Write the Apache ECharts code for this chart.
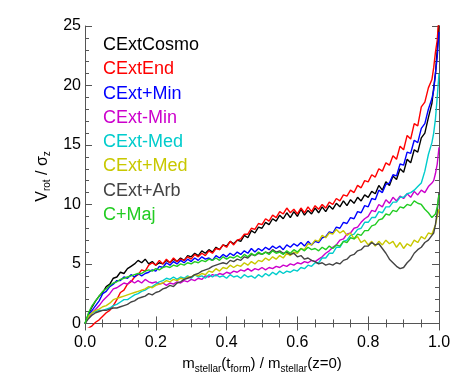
<!DOCTYPE html>
<html>
<head>
<meta charset="utf-8">
<script src="https://cdn.jsdelivr.net/npm/echarts@6/dist/echarts.min.js"></script>
<style>
  html, body { margin: 0; padding: 0; background: #fff; }
  #chart { width: 463px; height: 382px; }
</style>
</head>
<body>
<div id="chart"></div>
<script>
// m_stellar(t_form) / m_stellar(z=0), shared by every run
const massFrac = [
  0.00, 0.01, 0.02, 0.03, 0.04, 0.05, 0.06, 0.07, 0.08, 0.09,
  0.10, 0.11, 0.12, 0.13, 0.14, 0.15, 0.16, 0.17, 0.18, 0.19,
  0.20, 0.21, 0.22, 0.23, 0.24, 0.25, 0.26, 0.27, 0.28, 0.29,
  0.30, 0.31, 0.32, 0.33, 0.34, 0.35, 0.36, 0.37, 0.38, 0.39,
  0.40, 0.41, 0.42, 0.43, 0.44, 0.45, 0.46, 0.47, 0.48, 0.49,
  0.50, 0.51, 0.52, 0.53, 0.54, 0.55, 0.56, 0.57, 0.58, 0.59,
  0.60, 0.61, 0.62, 0.63, 0.64, 0.65, 0.66, 0.67, 0.68, 0.69,
  0.70, 0.71, 0.72, 0.73, 0.74, 0.75, 0.76, 0.77, 0.78, 0.79,
  0.80, 0.81, 0.82, 0.83, 0.84, 0.85, 0.86, 0.87, 0.88, 0.89,
  0.90, 0.91, 0.92, 0.93, 0.94, 0.95,
  0.96, 0.97, 0.98, 0.985, 0.99, 0.995, 1.00
]

// V_rot / sigma_z for each run
const cextCosmo = [
  0.0, 0.8, 1.4, 1.9, 2.3, 2.6, 3.1, 3.3, 3.8, 3.9,
  4.3, 4.2, 4.6, 4.8, 5.0, 5.3, 5.1, 5.4, 5.0, 5.2,
  4.9, 5.1, 5.0, 5.3, 5.1, 5.4, 5.2, 5.5, 5.3, 5.7,
  5.6, 5.9, 5.7, 6.1, 5.9, 6.2, 6.0, 6.4, 6.2, 6.6,
  6.5, 6.9, 6.7, 7.0, 6.9, 7.4, 7.2, 7.8, 7.6, 8.1,
  8.0, 8.5, 8.3, 8.8, 8.6, 9.1, 8.8, 9.3, 8.9, 9.4,
  9.0, 9.6, 9.1, 9.5, 9.2, 9.7, 9.3, 9.8, 9.4, 9.9,
  9.6, 10.1, 9.8, 10.3, 9.9, 10.4, 10.1, 10.6, 10.3, 10.8,
  10.6, 11.1, 10.9, 11.6, 11.2, 11.9, 11.6, 12.4, 12.1, 13.0,
  12.7, 13.8, 13.5, 14.6, 14.4, 15.6,
  16.0, 17.3, 18.5, 19.8, 21.0, 23.0, 25.5
]
const cextEnd = [
  -0.5, -0.4, -0.2, 0.1, 0.3, 0.6, 0.9, 1.1, 1.5, 2.0,
  2.6, 2.8, 3.3, 3.5, 3.9, 4.1, 4.5, 4.4, 4.9, 5.1,
  4.9, 5.3, 5.0, 5.4, 5.1, 5.5, 5.2, 5.4, 5.3, 5.6,
  5.4, 5.8, 5.6, 5.9, 5.7, 6.1, 5.9, 6.3, 6.2, 6.6,
  6.4, 6.9, 6.6, 7.0, 7.1, 7.5, 7.5, 8.0, 7.9, 8.4,
  8.3, 8.8, 8.6, 9.1, 8.9, 9.4, 9.2, 9.7, 9.3, 9.6,
  9.2, 9.7, 9.3, 9.8, 9.4, 9.9, 9.6, 10.0, 9.7, 10.2,
  10.0, 10.5, 10.3, 10.8, 10.7, 11.2, 11.0, 11.6, 11.4, 12.0,
  11.9, 12.5, 12.3, 13.0, 12.8, 13.5, 13.3, 14.1, 13.8, 14.9,
  14.6, 15.8, 15.5, 16.8, 16.6, 18.2,
  18.6, 19.8, 20.5, 21.5, 22.8, 23.8, 26.0
]
const cextPlusMin = [
  0.0, 0.7, 1.1, 1.5, 1.9, 2.5, 2.7, 3.1, 3.3, 3.6,
  3.6, 3.9, 3.8, 4.1, 3.9, 4.2, 4.0, 4.2, 4.3, 4.5,
  4.4, 4.8, 4.7, 5.1, 4.9, 5.2, 5.0, 5.3, 5.1, 5.4,
  5.2, 5.5, 5.3, 5.6, 5.4, 5.5, 5.3, 5.7, 5.5, 5.8,
  5.6, 5.9, 5.7, 6.0, 5.8, 6.1, 5.9, 6.3, 6.0, 6.3,
  6.1, 6.4, 6.2, 6.5, 6.3, 6.5, 6.2, 6.6, 6.4, 6.7,
  6.5, 6.8, 6.5, 6.9, 6.6, 6.9, 6.8, 7.2, 7.3, 7.7,
  7.6, 8.1, 8.0, 8.5, 8.4, 8.9, 8.8, 9.4, 9.3, 9.9,
  9.8, 10.5, 10.4, 11.2, 11.0, 11.7, 11.8, 12.5, 12.4, 13.4,
  13.3, 14.4, 14.3, 15.4, 15.2, 16.4,
  16.8, 18.0, 18.9, 19.6, 21.0, 22.4, 24.5
]
const cextMinusMin = [
  0.0, 0.5, 0.9, 1.2, 1.5, 1.9, 2.2, 2.5, 2.9, 3.0,
  3.2, 3.4, 3.3, 3.6, 3.4, 3.6, 3.4, 3.7, 3.5, 3.4,
  3.5, 3.3, 3.4, 3.2, 3.4, 3.3, 3.5, 3.4, 3.6, 3.5,
  3.7, 3.6, 3.8, 3.7, 4.0, 3.9, 4.1, 4.0, 4.2, 4.1,
  4.3, 4.2, 4.4, 4.3, 4.5, 4.4, 4.6, 4.4, 4.6, 4.5,
  4.7, 4.5, 4.7, 4.6, 4.8, 4.7, 4.9, 4.8, 5.0, 4.9,
  5.1, 5.0, 5.2, 5.1, 5.3, 5.2, 5.4, 5.6, 5.9, 6.1,
  6.4, 6.6, 7.0, 7.1, 7.5, 7.6, 8.0, 8.1, 8.5, 8.8,
  9.0, 9.5, 9.4, 10.0, 9.8, 10.4, 10.1, 10.6, 10.3, 10.7,
  10.5, 10.9, 10.6, 11.1, 10.8, 11.2,
  11.0, 11.5, 11.8, 12.0, 12.6, 13.4, 14.8
]
const cextMinusMed = [
  0.0, 0.6, 0.9, 1.0, 1.1, 1.1, 1.2, 1.3, 1.5, 1.6,
  1.8, 2.0, 2.0, 2.2, 2.4, 2.5, 2.7, 2.8, 3.0, 3.1,
  3.3, 3.5, 3.6, 3.8, 3.7, 3.9, 3.7, 3.9, 3.8, 4.0,
  3.8, 4.1, 3.9, 4.0, 3.8, 4.1, 3.9, 4.1, 3.9, 4.0,
  3.8, 4.1, 3.9, 4.0, 3.8, 4.1, 3.9, 4.0, 3.8, 4.1,
  3.9, 4.2, 4.0, 4.3, 4.1, 4.4, 4.2, 4.4, 4.3, 4.5,
  4.4, 4.7, 4.6, 4.9, 4.8, 5.1, 5.1, 5.5, 5.5, 5.9,
  5.9, 6.4, 6.4, 6.9, 7.0, 7.4, 7.5, 7.9, 8.0, 8.5,
  8.5, 8.9, 8.9, 9.4, 9.3, 9.8, 9.8, 10.2, 10.2, 10.6,
  10.6, 10.9, 11.0, 11.2, 11.5, 11.8,
  12.8, 14.2, 15.2, 16.0, 17.2, 19.0, 21.0
]
const cextPlusMed = [
  0.0, 0.6, 0.9, 1.1, 1.2, 1.4, 1.5, 1.7, 2.0, 2.1,
  2.2, 2.3, 2.4, 2.5, 2.6, 2.7, 2.8, 2.9, 3.1, 3.0,
  3.2, 3.3, 3.4, 3.6, 3.5, 3.7, 3.6, 3.8, 3.7, 3.9,
  3.9, 4.1, 4.0, 4.2, 4.1, 4.4, 4.3, 4.6, 4.4, 4.7,
  4.6, 4.9, 4.7, 4.9, 4.8, 5.1, 4.9, 5.2, 5.0, 5.3,
  5.2, 5.5, 5.3, 5.6, 5.4, 5.7, 5.5, 5.9, 5.7, 6.0,
  5.9, 6.3, 6.2, 6.7, 6.6, 7.0, 6.9, 7.4, 7.2, 7.6,
  7.5, 7.9, 7.6, 7.8, 7.4, 7.6, 7.1, 7.3, 6.8, 7.0,
  6.6, 6.9, 6.5, 6.9, 6.6, 7.0, 6.7, 6.9, 6.4, 6.8,
  6.3, 6.7, 6.5, 7.0, 6.8, 7.3,
  7.1, 7.6, 7.5, 7.9, 8.3, 9.0, 9.6
]
const cextPlusArb = [
  0.0, 0.4, 0.7, 0.9, 1.0, 1.1, 1.1, 1.2, 1.3, 1.3,
  1.4, 1.5, 1.6, 1.8, 1.9, 2.1, 2.2, 2.3, 2.5, 2.4,
  2.6, 2.7, 2.9, 3.0, 3.2, 3.1, 3.4, 3.5, 3.7, 3.8,
  3.9, 4.1, 4.2, 4.4, 4.5, 4.6, 4.8, 4.9, 5.0, 5.1,
  5.0, 5.3, 5.2, 5.4, 5.3, 5.6, 5.5, 5.8, 5.7, 5.9,
  5.8, 6.0, 5.9, 6.2, 6.0, 6.1, 5.9, 6.0, 5.8, 5.9,
  5.6, 5.7, 5.4, 5.5, 5.3, 5.2, 5.0, 5.1, 4.9, 5.0,
  4.9, 5.1, 5.0, 5.3, 5.4, 5.7, 5.8, 6.1, 6.2, 6.5,
  6.5, 6.8, 6.6, 6.7, 6.3, 5.9, 5.4, 5.1, 4.8, 4.6,
  4.7, 5.1, 5.4, 5.9, 6.2, 6.4,
  6.8, 7.0, 7.4, 7.6, 8.3, 9.4, 11.0
]
const cPlusMaj = [
  0.0, 0.9, 1.5, 1.9, 2.3, 2.7, 2.9, 3.2, 3.4, 3.5,
  3.7, 3.8, 3.9, 4.0, 4.1, 4.2, 4.2, 4.4, 4.5, 4.4,
  4.6, 4.5, 4.7, 4.8, 4.7, 4.9, 4.8, 5.0, 4.9, 5.1,
  5.0, 5.2, 5.1, 5.3, 5.2, 5.4, 5.3, 5.5, 5.3, 5.6,
  5.4, 5.6, 5.5, 5.7, 5.5, 5.8, 5.6, 5.9, 5.7, 6.0,
  5.8, 6.0, 5.8, 6.1, 5.9, 6.0, 5.8, 6.1, 5.9, 6.2,
  6.0, 6.3, 6.1, 6.4, 6.2, 6.3, 6.1, 6.4, 6.2, 6.5,
  6.3, 6.6, 6.5, 6.9, 6.8, 7.2, 7.1, 7.5, 7.4, 7.8,
  7.8, 8.2, 8.3, 8.7, 8.8, 9.2, 9.1, 9.5, 9.4, 9.8,
  9.7, 10.0, 9.9, 10.3, 10.1, 10.0,
  9.6, 9.3, 8.9, 8.8, 9.2, 9.8, 10.8
]

const runNames = ['CExtCosmo', 'CExtEnd', 'CExt+Min', 'CExt-Min', 'CExt-Med', 'CExt+Med', 'CExt+Arb', 'C+Maj']
const runValues = [cextCosmo, cextEnd, cextPlusMin, cextMinusMin, cextMinusMed, cextPlusMed, cextPlusArb, cPlusMaj]
const runColors = ['#000000', '#ff0000', '#0000ff', '#cc00cc', '#00cccc', '#c8c800', '#444444', '#22cc22']

const yMajorTicks = [0, 5, 10, 15, 20, 25]
const yMinorTicks = [1, 2, 3, 4, 6, 7, 8, 9, 11, 12, 13, 14, 16, 17, 18, 19, 21, 22, 23, 24]

const FONT = '"Liberation Sans", Arial, Helvetica, sans-serif'
const AXIS_GREY = '#555555'

const chart = echarts.init(document.getElementById('chart'))

const axisLine = { show: true, lineStyle: { color: AXIS_GREY, width: 1 } }

function xFrame(position, withLabels) {
  return {
    type: 'value',
    position: position,
    min: 0,
    max: 1,
    interval: 0.2,
    axisLine: axisLine,
    axisTick: { show: true, inside: true, length: 7, lineStyle: { color: AXIS_GREY } },
    minorTick: { show: true, splitNumber: 4, length: 4, lineStyle: { color: AXIS_GREY } },
    splitLine: { show: false },
    minorSplitLine: { show: false },
    axisLabel: {
      show: withLabels,
      formatter: (v) => v.toFixed(1),
      fontSize: 16,
      fontFamily: FONT,
      color: '#000',
      margin: 8,
    },
  }
}

function yFrame(position, ticks, tickLength, withLabels) {
  return {
    type: 'value',
    position: position,
    min: -0.3,
    max: 25,
    axisLine: withLabels !== null ? axisLine : { show: false },
    axisTick: { show: true, inside: true, length: tickLength, customValues: ticks, lineStyle: { color: AXIS_GREY } },
    splitLine: { show: false },
    axisLabel: {
      show: !!withLabels,
      customValues: ticks,
      fontSize: 16,
      fontFamily: FONT,
      color: '#000',
      margin: 4,
    },
  }
}

const bottomAxis = xFrame('bottom', true)
bottomAxis.name = '{m|m}{s|stellar}{m|(t}{s|form}{m|) / m}{s|stellar}{m|(z=0)}'
bottomAxis.nameLocation = 'middle'
bottomAxis.nameGap = 29
bottomAxis.nameTextStyle = {
  rich: {
    m: { fontSize: 15, fontFamily: FONT, color: '#000', lineHeight: 18, verticalAlign: 'top' },
    s: { fontSize: 10, fontFamily: FONT, color: '#000', lineHeight: 10, padding: [8, 0, 0, 0], verticalAlign: 'top' },
  },
}

const leftAxis = yFrame('left', yMajorTicks, 7, true)
leftAxis.name = '{m|V}{s|rot}{m| / σ}{s|z}'
leftAxis.nameLocation = 'middle'
leftAxis.nameGap = 32
leftAxis.nameTextStyle = {
  rich: {
    m: { fontSize: 16, fontFamily: FONT, color: '#000', lineHeight: 18, verticalAlign: 'top' },
    s: { fontSize: 10, fontFamily: FONT, color: '#000', lineHeight: 10, padding: [8, 0, 0, 0], verticalAlign: 'top' },
  },
}

chart.setOption({
  animation: false,
  backgroundColor: '#ffffff',
  grid: { left: 85, right: 24, top: 26, bottom: 55, containLabel: false },
  legend: {
    orient: 'vertical',
    left: 93,
    top: 31,
    icon: 'none',
    itemWidth: 0,
    itemHeight: 18,
    itemGap: 6.3,
    selectedMode: false,
    data: runNames.map((name, i) => ({
      name: name,
      textStyle: { color: runColors[i], fontSize: 18, fontFamily: FONT },
    })),
  },
  xAxis: [bottomAxis, xFrame('top', false)],
  yAxis: [
    leftAxis,
    yFrame('left', yMinorTicks, 4, null),
    yFrame('right', yMajorTicks, 7, false),
    yFrame('right', yMinorTicks, 4, null),
  ],
  series: runNames.map((name, i) => ({
    name: name,
    type: 'line',
    xAxisIndex: 0,
    yAxisIndex: 0,
    showSymbol: false,
    symbol: 'none',
    color: runColors[i],
    lineStyle: { color: runColors[i], width: 1.4 },
    data: massFrac.map((x, j) => [x, runValues[i][j]]),
  })),
})

window.addEventListener('resize', () => chart.resize())
</script>
</body>
</html>
